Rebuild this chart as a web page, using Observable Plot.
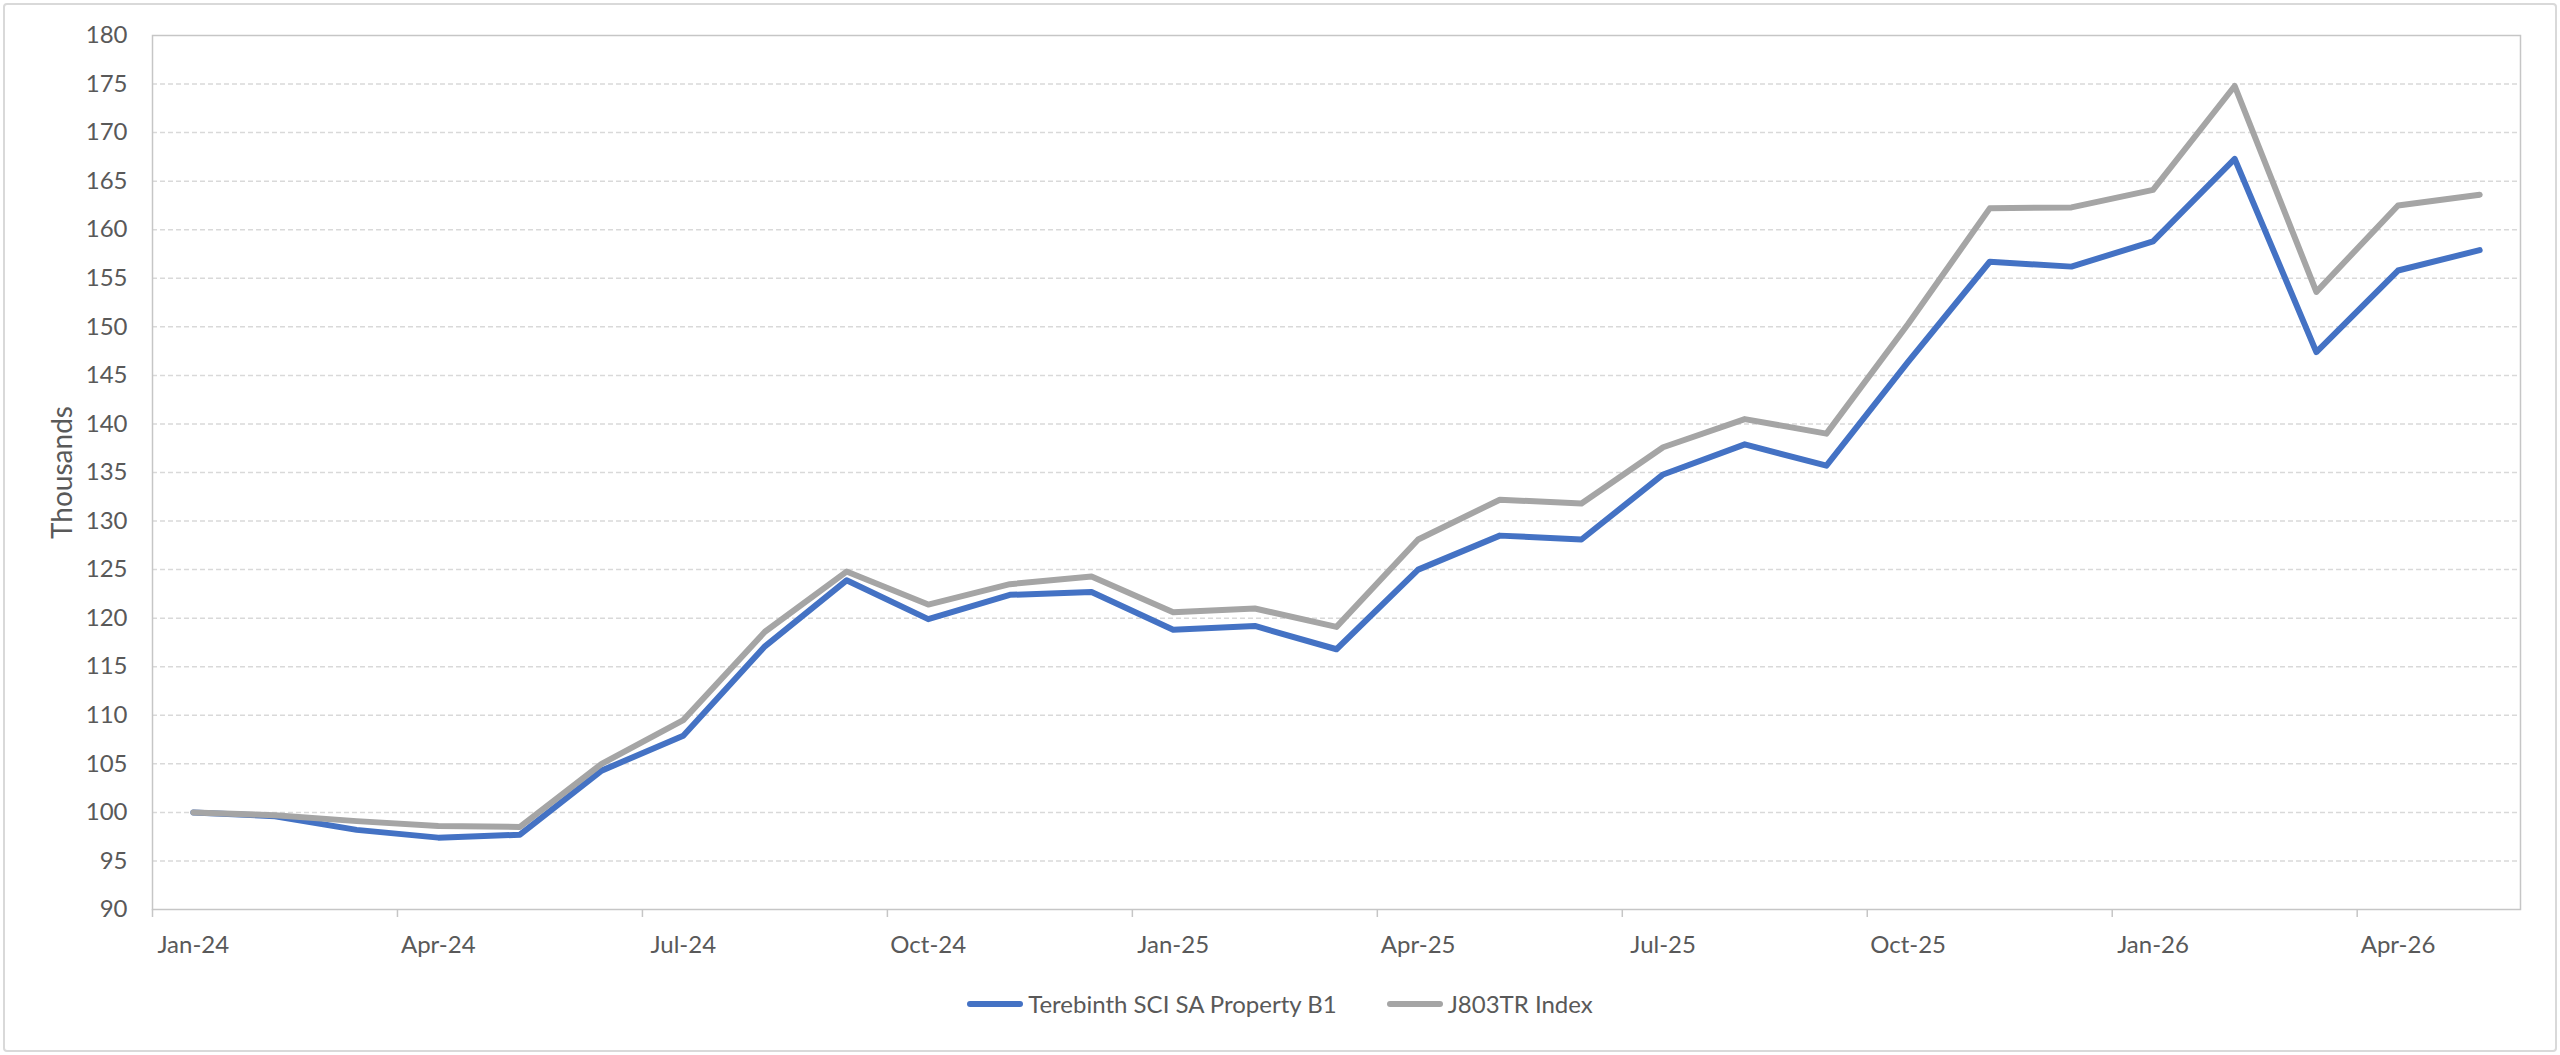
<!DOCTYPE html>
<html>
<head>
<meta charset="utf-8">
<script src="https://cdn.jsdelivr.net/npm/d3@7"></script>
<script src="https://cdn.jsdelivr.net/npm/@observablehq/plot@0.6"></script>
<style>
  html, body { margin: 0; padding: 0; background: #fff; }
  body { width: 2560px; height: 1055px; position: relative; overflow: hidden; font-family: Lato, "Open Sans", sans-serif; }
  #border { position: absolute; left: 3px; top: 3px; width: 2550px; height: 1045px; border: 2px solid #d9d9d9; border-radius: 4px; pointer-events: none; }
  #chart { position: absolute; left: 0; top: 0; }
  #legend { position: absolute; left: 0; top: 989px; width: 2560px; display: flex; justify-content: center; align-items: center; gap: 50px; font-size: 24px; line-height: 30px; color: #595959; }
  .item { display: flex; align-items: center; gap: 5px; }
  .sw { width: 56px; height: 6px; border-radius: 3px; }
</style>
</head>
<body>
<div id="chart"></div>
<div id="legend"></div>
<div id="border"></div>
<script>
const months = ["Jan-24","Feb-24","Mar-24","Apr-24","May-24","Jun-24","Jul-24","Aug-24","Sep-24","Oct-24","Nov-24","Dec-24",
  "Jan-25","Feb-25","Mar-25","Apr-25","May-25","Jun-25","Jul-25","Aug-25","Sep-25","Oct-25","Nov-25","Dec-25",
  "Jan-26","Feb-26","Mar-26","Apr-26","May-26"];
const seriesNames = ["Terebinth SCI SA Property B1", "J803TR Index"];
const seriesColors = ["#4472C4", "#A5A5A5"];
const terebinth = [100, 99.6, 98.2, 97.4, 97.7, 104.3, 107.9, 117.1, 123.9, 119.9, 122.4, 122.7,
  118.8, 119.2, 116.8, 125.0, 128.5, 128.1, 134.8, 137.9, 135.7, 146.4, 156.7, 156.2,
  158.8, 167.3, 147.4, 155.8, 157.9];
const j803tr = [100, 99.7, 99.1, 98.6, 98.5, 105.0, 109.5, 118.6, 124.8, 121.4, 123.5, 124.3,
  120.6, 121.0, 119.1, 128.1, 132.2, 131.8, 137.6, 140.5, 139.0, 150.3, 162.2, 162.3,
  164.1, 174.8, 153.6, 162.5, 163.6];
const yTicks = [90, 95, 100, 105, 110, 115, 120, 125, 130, 135, 140, 145, 150, 155, 160, 165, 170, 175, 180];
const yGrid = [95, 100, 105, 110, 115, 120, 125, 130, 135, 140, 145, 150, 155, 160, 165, 170, 175];
const xLabelIdx = [0, 3, 6, 9, 12, 15, 18, 21, 24, 27];
const xTickBounds = [-0.5, 2.5, 5.5, 8.5, 11.5, 14.5, 17.5, 20.5, 23.5, 26.5];

const data = [];
[terebinth, j803tr].forEach((vals, s) => {
  vals.forEach((v, i) => data.push({i, month: months[i], value: v, series: seriesNames[s]}));
});

const chart = Plot.plot({
  width: 2560,
  height: 969,
  marginTop: 35,
  marginBottom: 60,
  marginLeft: 152,
  marginRight: 40,
  style: {fontFamily: "Lato, 'Open Sans', sans-serif", fontSize: "24px", color: "#595959", background: "transparent"},
  x: {domain: [-0.5, months.length - 0.5]},
  y: {domain: [90, 180]},
  color: {domain: seriesNames, range: seriesColors},
  marks: [
    Plot.gridY(yGrid, {stroke: "#d9d9d9", strokeOpacity: 1, strokeWidth: 1.5, strokeDasharray: "5,3"}),
    Plot.frame({stroke: "#c6c6c6", strokeWidth: 1.5}),
    Plot.axisY({ticks: yTicks, tickSize: 0, tickPadding: 25, label: null, fontSize: 24}),
    Plot.axisY({ticks: [], tickSize: 0, label: "Thousands", labelAnchor: "center", labelArrow: "none", labelOffset: 100, fontSize: 28}),
    Plot.axisX({ticks: xTickBounds, tickSize: 8, tickFormat: () => "", stroke: "#c6c6c6", strokeWidth: 1.5, label: null}),
    Plot.axisX({ticks: xLabelIdx, tickSize: 0, tickPadding: 26, tickFormat: (d) => months[d], label: null, fontSize: 24}),
    Plot.line(data, {x: "i", y: "value", stroke: "series", z: "series", strokeWidth: 6, strokeLinecap: "round", strokeLinejoin: "round"})
  ]
});
document.getElementById("chart").appendChild(chart);

const legend = document.getElementById("legend");
seriesNames.forEach((name, k) => {
  const item = document.createElement("div");
  item.className = "item";
  const sw = document.createElement("div");
  sw.className = "sw";
  sw.style.background = seriesColors[k];
  const t = document.createElement("span");
  t.textContent = name;
  item.appendChild(sw);
  item.appendChild(t);
  legend.appendChild(item);
});
</script>
</body>
</html>
